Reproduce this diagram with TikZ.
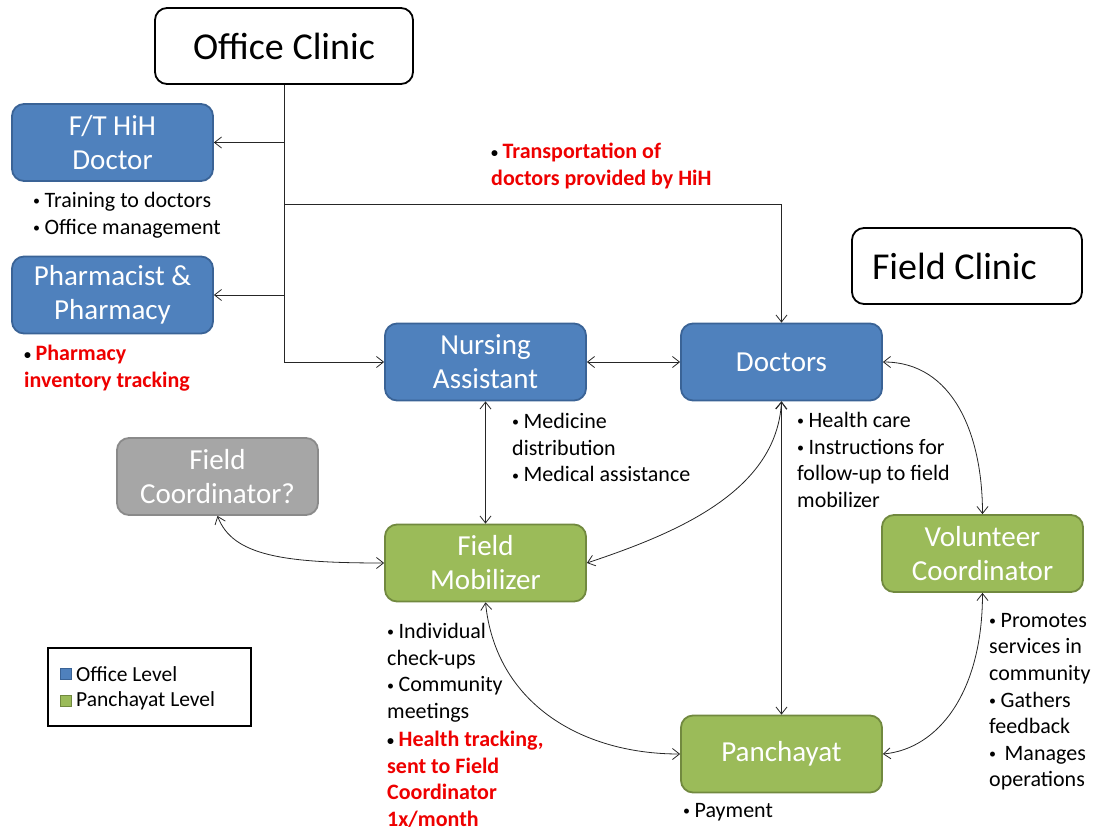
\documentclass[tikz,border=0pt]{standalone}
\usepackage{fontspec}
\setmainfont{Carlito}
\usetikzlibrary{arrows.meta}
\definecolor{offblue}{HTML}{4F81BD}
\definecolor{offrim}{HTML}{3A6396}
\definecolor{pangreen}{HTML}{9BBB59}
\definecolor{panrim}{HTML}{71893F}
\definecolor{askgray}{HTML}{A6A6A6}
\definecolor{askrim}{HTML}{8A8A8A}
\definecolor{hotred}{HTML}{EE0000}
% small black bullet as in the slide
\newcommand\bul{{\color{black}\fontsize{14}{14}\selectfont\raisebox{1.6pt}{•}}\hspace{4.5pt}}

\begin{document}
\begin{tikzpicture}[x=1pt,y=-1pt,
  box/.style={draw, rounded corners=12pt, line width=1.8pt, minimum width=201pt, minimum height=77pt,
    align=center, text=white, inner sep=2pt, font=\fontsize{29}{34}\selectfont},
  officebox/.style={box, fill=offblue, draw=offrim},
  panbox/.style={box, fill=pangreen, draw=panrim},
  askbox/.style={box, fill=askgray, draw=askrim},
  clinic/.style={draw=black, fill=white, rounded corners=12pt, line width=1.8pt, minimum height=76pt,
    font=\fontsize{38}{44}\selectfont},
  note/.style={anchor=north west, inner sep=0pt, align=left, font=\fontsize{22}{26.6}\selectfont},
  hot/.style={note, text=hotred, font=\fontsize{22}{26.6}\selectfont\bfseries},
  link/.style={line width=0.8pt, draw=black!85},
  >={Straight Barb[length=7pt,width=11pt]}
]
\useasboundingbox (0,0) rectangle (1109,833);

% clinics
\node[clinic, minimum width=258pt] (off) at (284,46) {Office Clinic};
\node[clinic, minimum width=230pt, inner xsep=0pt] (fcl) at (967,266) {\makebox[190pt][l]{Field Clinic}};

% office level
\node[officebox] (fth) at (112.5,142.5) {F/T HiH\\Doctor};
\node[officebox] (pha) at (112.5,295) {Pharmacist \&\\Pharmacy};
\node[officebox] (nur) at (485.5,362) {Nursing\\Assistant};
\node[officebox] (doc) at (781.5,362) {Doctors};

% panchayat level
\node[askbox] (fco) at (217.5,476.5) {Field\\Coordinator?};
\node[panbox] (fmo) at (485.5,563) {Field\\Mobilizer};
\node[panbox] (vol) at (982.5,553.5) {Volunteer\\Coordinator};
\node[panbox] (pan) at (781.5,754) {Panchayat};

% tasks
\node[note] (fthnote) at (33,192) {\bul Training to doctors\\\bul Office management};
\node[hot] (phanote) at (24,345) {\bul Pharmacy\\inventory tracking};
\node[hot] (trpnote) at (491,143) {\bul Transportation of\\doctors provided by HiH};
\node[note] (nurnote) at (512,413) {\bul Medicine\\distribution\\\bul Medical assistance};
\node[note] (docnote) at (797,412) {\bul Health care\\\bul Instructions for\\follow-up to field\\mobilizer};
\node[note] (fmonote) at (387,623) {\bul Individual\\check-ups\\\bul Community\\meetings};
\node[hot] (fmohot) at (387,731) {\bul Health tracking,\\sent to Field\\Coordinator\\1x/month};
\node[note] (pannote) at (683,803) {\bul Payment};
\node[note] (volnote) at (989,613) {\bul Promotes\\services in\\community\\\bul Gathers\\feedback\\\bul\hspace{4pt}Manages\\operations};

% legend
\node[draw=black, line width=2.2pt, minimum width=203pt, minimum height=78pt] (key) at (149.5,687) {};
\node[draw=offrim, fill=offblue, line width=0.8pt, minimum size=11pt, inner sep=0pt] (keyoff) at (66,674) {};
\node[draw=panrim, fill=pangreen, line width=0.8pt, minimum size=11pt, inner sep=0pt] (keypan) at (66,701) {};
\node[anchor=west, inner sep=0pt, font=\fontsize{21.5}{25}\selectfont] (keyofft) at (76,674) {Office Level};
\node[anchor=west, inner sep=0pt, font=\fontsize{21.5}{25}\selectfont] (keypant) at (76,701) {Panchayat Level};

% office clinic trunk
\coordinate (trk) at (off.south |- 0,204);
\draw[link, ->] (off.south) |- (nur.west);
\draw[link, ->] (off.south |- fth.east) -- (fth.east);
\draw[link, ->] (off.south |- pha.east) -- (pha.east);
\draw[link, ->] (trk) -| (doc.north);

% field links
\draw[link, <->] (nur.east) -- (doc.west);
\draw[link, <->] (nur.south) -- (fmo.north);
\draw[link, <->] (doc.south) -- (pan.north);
\draw[link, <->] (doc.south) .. controls +(-5,90) and +(90,-30) .. (fmo.east);
\draw[link, <->] (doc.east) .. controls +(70,0) and +(0,-80) .. (vol.north);
\draw[link, <->] (vol.south) .. controls +(0,100) and +(55,-5) .. (pan.east);
\draw[link, <->] (fmo.south) .. controls +(10,100) and +(-100,0) .. (pan.west);
\draw[link, <->] (fco.south) .. controls +(15,40) and +(-100,0) .. (fmo.west);
\end{tikzpicture}
\end{document}
